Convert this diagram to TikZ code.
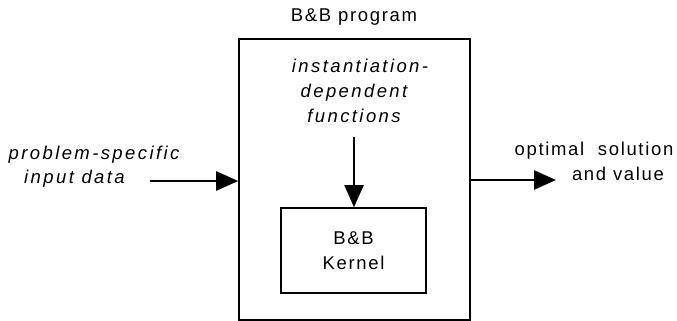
\documentclass[tikz,border=0pt]{standalone}
\usepackage{fontspec}
\setmainfont{Liberation Sans}[LetterSpace=9,ItalicFeatures={LetterSpace=13}]
\usetikzlibrary{arrows.meta}

\tikzset{every picture/.style={line width=0.75pt}}
\tikzset{
  box/.style={draw, line width=1.6pt, inner sep=0pt, align=center,
    font=\fontsize{18.5}{25}\selectfont},
  lbl/.style={anchor=base, inner sep=0.75pt, font=\fontsize{18.5}{25}\selectfont},
  ilbl/.style={lbl, font=\fontsize{18.5}{25}\selectfont\itshape},
  flow/.style={line width=2.6pt, -{Triangle[length=22pt,width=19pt]}},
}

\begin{document}
\begin{tikzpicture}[x=1pt,y=1pt,yscale=-1,xscale=1]
\useasboundingbox (0,0) rectangle (677,321);

%Shape: Rectangle [outer program box]
\node[box, minimum width=231pt, minimum height=281pt] (prog) at (354.5,179.5) {};
%Shape: Rectangle [kernel]
\node[box, minimum width=145pt, minimum height=85pt] (kern) at (353.5,250.5) {B\&B\\Kernel};

% Text Node
\node[lbl] (title) at (354,22) {B\&B program};
% Text Node
\node[ilbl] (fnA) at (360,73) {instantiation-};
\node[ilbl] (fnB) at (354,97) {dependent};
\node[ilbl] (fnC) at (354,122) {functions};
% Text Node
\node[ilbl] (inA) at (94,159) {problem-specific};
\node[ilbl] (inB) at (74.5,183) {input data};
% Text Node
\node[lbl] (outA) at (594,155) {optimal\ \ solution};
\node[lbl] (outB) at (618,180) {and value};

% free ends of the arrows
\coordinate (inTail) at (150,181);
\coordinate (outHead) at (556,180);
\coordinate (fnTail) at (354,137);

\draw[flow] (inTail) -- (inTail -| prog.west);
\draw[flow] (outHead -| prog.east) -- (outHead);
\draw[flow, line width=2pt] (fnTail) -- (fnTail |- kern.north);

\end{tikzpicture}
\end{document}
